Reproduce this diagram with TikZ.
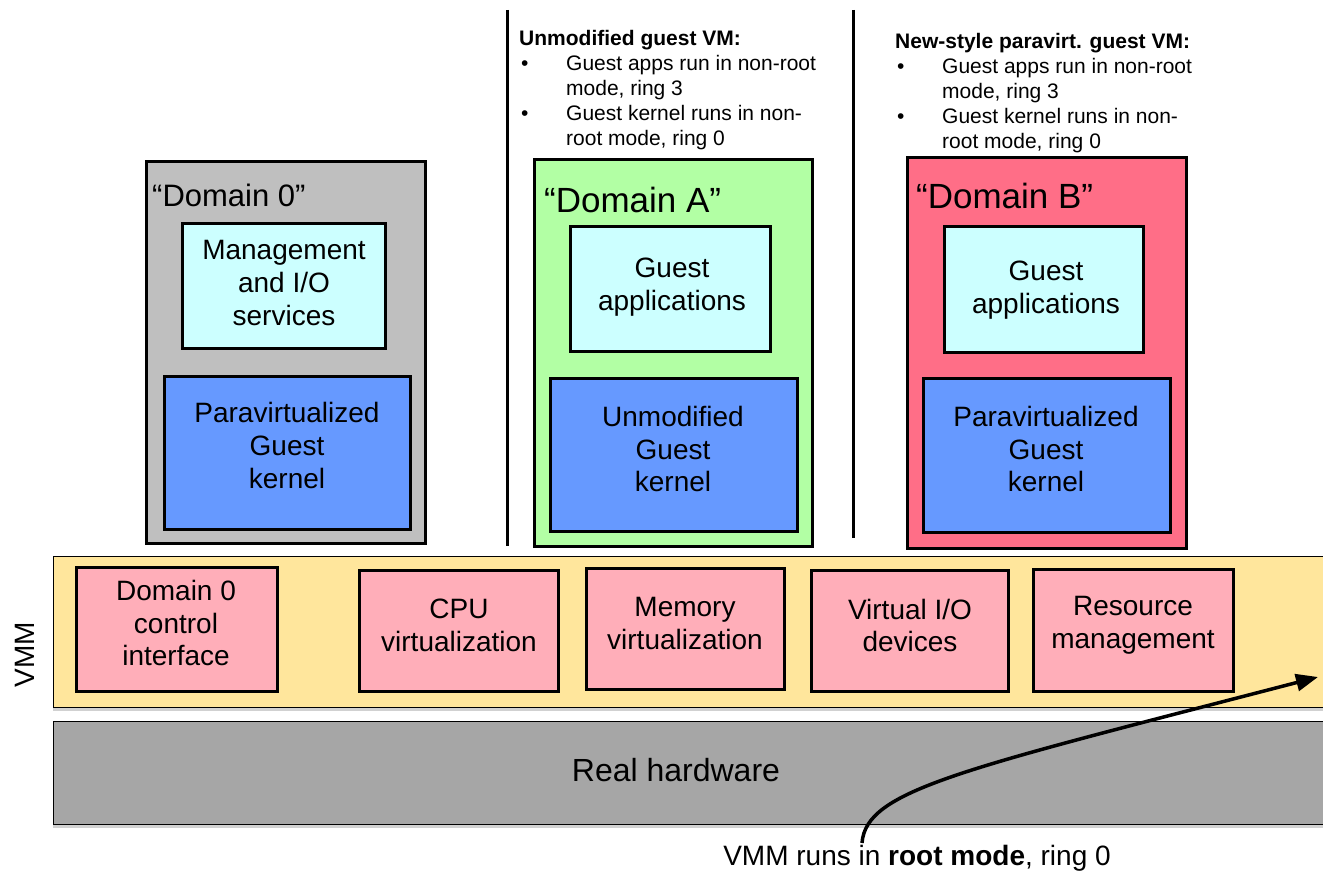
\documentclass[tikz,border=0pt]{standalone}
\usepackage{fontspec}
\setmainfont{Liberation Sans}
\usetikzlibrary{arrows.meta,shadows}
\definecolor{domgray}{RGB}{191,191,191}
\definecolor{domgreen}{RGB}{178,255,164}
\definecolor{domred}{RGB}{255,110,135}
\definecolor{appcyan}{RGB}{204,255,255}
\definecolor{kernblue}{RGB}{102,153,255}
\definecolor{vmmpink}{RGB}{255,174,185}
\definecolor{vmmyellow}{RGB}{255,230,156}
\definecolor{hwgray}{RGB}{166,166,166}
\newcommand\boxfont{\fontsize{28}{32.8}\selectfont}
\newcommand\domfont{\fontsize{35}{40}\selectfont}
\newcommand\notefont{\fontsize{21}{25}\selectfont}
\newcommand\bul{\makebox[47pt][l]{\hspace{2pt}•}}
\newcommand\ind{\hspace*{47pt}}
\tikzset{
  box/.style={draw, line width=3pt, inner sep=0pt},
  boxtext/.style={align=center, inner sep=0pt, font=\boxfont},
  band/.style={draw, line width=0.8pt, inner sep=0pt,
    drop shadow={shadow xshift=0pt, shadow yshift=-4pt, opacity=0.18, fill=black}},
  domlabel/.style={anchor=west, inner sep=0pt},
  note/.style={anchor=north west, align=left, inner sep=0pt, font=\notefont},
  sep/.style={line width=3pt},
  arr/.style={line width=3.5pt, -{Triangle[length=22pt,width=17pt]}}
}
\begin{document}
\begin{tikzpicture}[x=1pt,y=-1pt]
\useasboundingbox[fill=white] (0,0) rectangle (1323,874);
% separators
\coordinate (s1t) at (507,10); \coordinate (s1b) at (507,546);
\coordinate (s2t) at (853,10); \coordinate (s2b) at (853,538);
\draw[sep] (s1t) -- (s1b);
\draw[sep] (s2t) -- (s2b);
% notes
\node[note] (noteA) at (519,30) {\textbf{Unmodified guest VM:}\\
\bul Guest apps run in non-root\\
\ind mode, ring 3\\
\bul Guest kernel runs in non-\\
\ind root mode, ring 0};
\node[note] (noteB) at (895,33) {\textbf{New-style paravirt. guest VM:}\\
\bul Guest apps run in non-root\\
\ind mode, ring 3\\
\bul Guest kernel runs in non-\\
\ind root mode, ring 0};
% domains
\node[box, fill=domgray, minimum width=279pt, minimum height=381pt] (d0) at (285.5,352.5) {};
\node[box, fill=domgreen, minimum width=278pt, minimum height=386pt] (dA) at (673,353) {};
\node[box, fill=domred, minimum width=279pt, minimum height=390pt] (dB) at (1046.5,353) {};
\node[domlabel, font=\fontsize{31}{35}\selectfont] (l0) at (152,195) {“Domain 0”};
\node[domlabel, font=\domfont] (lA) at (544,200) {“Domain A”};
\node[domlabel, font=\domfont] (lB) at (916,196) {“Domain B”};
% inner boxes
\node[box, fill=appcyan, minimum width=203pt, minimum height=125pt] (mg) at (283.5,286.5) {};
\node[boxtext] (mgt) at (284,283) {Management\\and I/O\\services};
\node[box, fill=kernblue, minimum width=246pt, minimum height=152pt] (pk0) at (287,453) {};
\node[boxtext] (pk0t) at (287,445.5) {Paravirtualized\\Guest\\kernel};
\node[box, fill=appcyan, minimum width=200pt, minimum height=125pt] (gaA) at (670,289.5) {};
\node[boxtext] (gaAt) at (672,287.5) {Guest\\applications};
\node[box, fill=kernblue, minimum width=247pt, minimum height=152pt] (ukA) at (673.5,455) {};
\node[boxtext] (ukAt) at (673,449) {Unmodified\\Guest\\kernel};
\node[box, fill=appcyan, minimum width=199pt, minimum height=126pt] (gaB) at (1043.5,290) {};
\node[boxtext] (gaBt) at (1046,290) {Guest\\applications};
\node[box, fill=kernblue, minimum width=247pt, minimum height=153pt] (pkB) at (1046.5,455.5) {};
\node[boxtext] (pkBt) at (1046,449) {Paravirtualized\\Guest\\kernel};
% VMM band
\node[band, fill=vmmyellow, minimum width=1275pt, minimum height=151pt] (vmm) at (690.5,631.5) {};
\node[rotate=90, font=\boxfont, inner sep=0pt] (vmml) at (25,655) {VMM};
\node[box, fill=vmmpink, minimum width=201pt, minimum height=124pt] (v1) at (176.5,629) {};
\node[boxtext] (v1t) at (176,623) {Domain 0\\control\\interface};
\node[box, fill=vmmpink, minimum width=199pt, minimum height=121pt] (v2) at (458.5,630.5) {};
\node[boxtext] (v2t) at (459,625.5) {CPU\\virtualization};
\node[box, fill=vmmpink, minimum width=198pt, minimum height=121pt] (v3) at (685,628.5) {};
\node[boxtext] (v3t) at (685,623.5) {Memory\\virtualization};
\node[box, fill=vmmpink, minimum width=197pt, minimum height=121pt] (v4) at (909.5,630.5) {};
\node[boxtext] (v4t) at (910,625.5) {Virtual I/O\\devices};
\node[box, fill=vmmpink, minimum width=200pt, minimum height=122pt] (v5) at (1133,630.5) {};
\node[boxtext] (v5t) at (1133,625.5) {Resource\\management};
% hardware
\node[band, fill=hwgray, minimum width=1275pt, minimum height=103pt] (hw) at (690.5,772.5) {};
\node[font=\fontsize{32}{36}\selectfont, inner sep=0pt] (hwl) at (676,770) {Real hardware};
% bottom note and arrow
\node[font=\boxfont, inner sep=0pt] (root) at (917,858) {VMM runs in \textbf{root mode}, ring 0};
\coordinate (as) at (862,843);
\coordinate (ae) at (1318,677);
\draw[arr] (as) .. controls (866,790) and (960,770) .. (ae);
\end{tikzpicture}
\end{document}
